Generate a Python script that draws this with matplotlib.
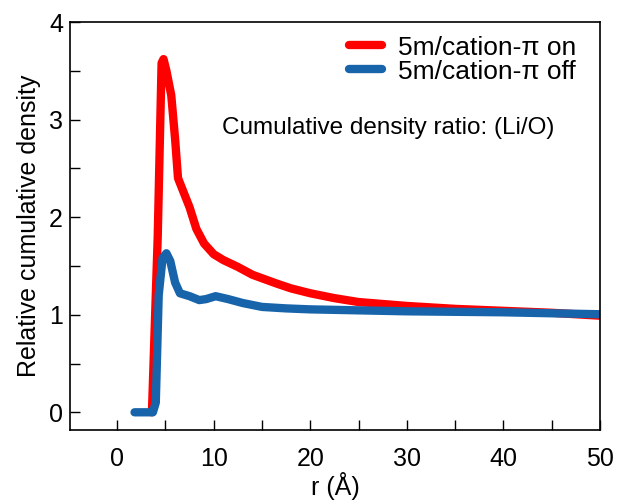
import numpy as np
import matplotlib
matplotlib.use('Agg')
from matplotlib import pyplot as plt
from matplotlib.ticker import MultipleLocator

plt.rcParams['font.family'] = ['Liberation Sans', 'DejaVu Sans']

# red: 5m/cation-pi on
r_on = [3.6, 4.2, 4.6, 4.8, 5.1, 5.6, 6.0, 6.3, 6.7, 7.5, 8.2, 9.0, 10.0, 11.0, 12.5, 14.0, 16.5, 18.0, 20.0, 22.5, 25.0, 30.0, 35.0, 40.0, 45.0, 50.0]
d_on = [0.0, 1.8, 3.58, 3.62, 3.5, 3.25, 2.8, 2.4, 2.3, 2.1, 1.88, 1.73, 1.62, 1.56, 1.49, 1.41, 1.32, 1.27, 1.22, 1.17, 1.13, 1.09, 1.06, 1.04, 1.02, 0.99]

# blue: 5m/cation-pi off
r_off = [1.8, 3.7, 4.0, 4.3, 4.7, 5.1, 5.5, 6.0, 6.5, 7.5, 8.5, 9.2, 10.2, 11.5, 13.0, 15.0, 17.5, 20.0, 25.0, 30.0, 35.0, 40.0, 45.0, 50.0]
d_off = [0.0, 0.0, 0.1, 1.2, 1.58, 1.63, 1.55, 1.33, 1.22, 1.19, 1.15, 1.16, 1.19, 1.16, 1.12, 1.08, 1.065, 1.055, 1.045, 1.035, 1.03, 1.025, 1.015, 1.005]

fig = plt.figure(figsize=(6.18, 5.01), dpi=100)
ax = fig.add_axes([0.113, 0.142, 0.858, 0.814])

ax.plot(r_on, d_on, color='#ff0000', lw=6, solid_capstyle='round', solid_joinstyle='round', label='5m/cation-\u03c0 on')
ax.plot(r_off, d_off, color='#1764ab', lw=6, solid_capstyle='round', solid_joinstyle='round', label='5m/cation-\u03c0 off')

ax.set_xlim(-4.9, 50)
ax.set_ylim(-0.18, 4)
ax.xaxis.set_major_locator(MultipleLocator(10))
ax.xaxis.set_minor_locator(MultipleLocator(5))
ax.yaxis.set_major_locator(MultipleLocator(1))
ax.yaxis.set_minor_locator(MultipleLocator(0.5))
ax.tick_params(which='both', direction='in', length=7, width=1, labelsize=18, top=False, right=False)
ax.tick_params(axis='x', pad=12)
ax.tick_params(axis='y', pad=5)
for s in ax.spines.values():
	s.set_linewidth(1.2)

ax.set_xlabel('r (\u00c5)', fontsize=18, labelpad=1)
ax.set_ylabel('Relative cumulative density', fontsize=18, labelpad=6)

ax.legend(loc='upper right', bbox_to_anchor=(1.0, 1.025), frameon=False, fontsize=19, handlelength=1.25, handletextpad=0.6, labelspacing=0.0)
ax.text(0.913, 0.74, 'Cumulative density ratio: (Li/O)', transform=ax.transAxes, ha='right', va='center', fontsize=17.5)

plt.savefig('out.png', dpi=100)
